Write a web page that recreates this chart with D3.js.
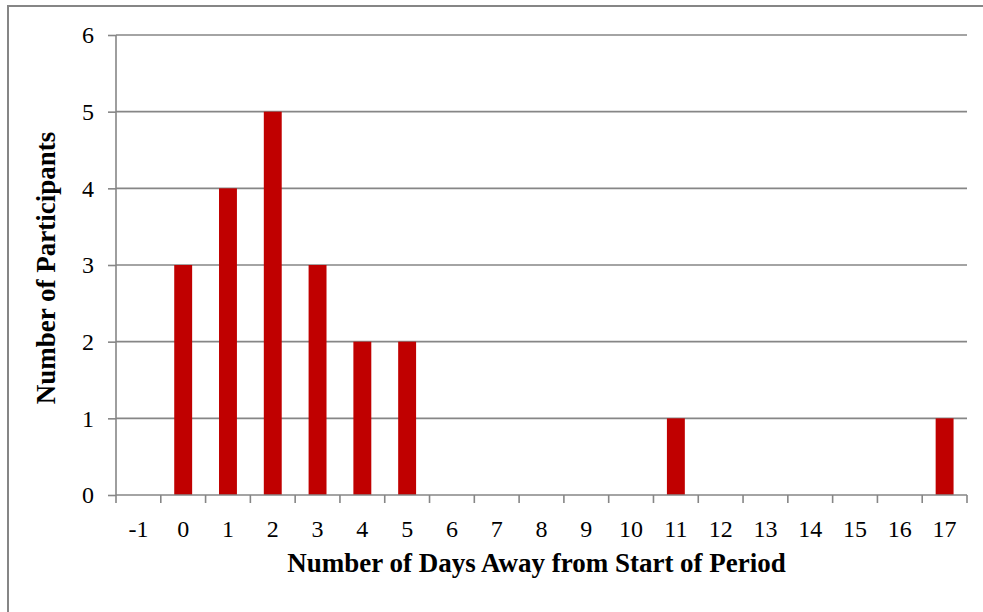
<!DOCTYPE html>
<html>
<head>
<meta charset="utf-8">
<script src="https://cdn.jsdelivr.net/npm/d3@7"></script>
<style>
  html, body { margin: 0; padding: 0; background: #fff; }
  svg { display: block; }
</style>
</head>
<body>
<script>
// Days away from start of period and how many participants fall on each day
const days = [-1, 0, 1, 2, 3, 4, 5, 6, 7, 8, 9, 10, 11, 12, 13, 14, 15, 16, 17];
const participants = [0, 3, 4, 5, 3, 2, 2, 0, 0, 0, 0, 0, 1, 0, 0, 0, 0, 0, 1];
const yTicks = [0, 1, 2, 3, 4, 5, 6];
const xTitle = "Number of Days Away from Start of Period";
const yTitle = "Number of Participants";

const W = 983, H = 612;
const plot = { left: 116, right: 967, top: 35, bottom: 495 };
const gridColor = "#868686";
const barColor = "#C00000";
const serif = "'Liberation Serif', 'Times New Roman', Tinos, 'DejaVu Serif', serif";

const svg = d3.select("body").append("svg").attr("width", W).attr("height", H)
  .style("font-family", serif);

// Outer chart frame (runs past the right and bottom edges)
svg.append("rect")
  .attr("x", 8).attr("y", 6)
  .attr("width", W + 20).attr("height", H + 20)
  .attr("fill", "#fff").attr("stroke", gridColor).attr("stroke-width", 2);

const x = d3.scaleBand().domain(days).range([plot.left, plot.right]).paddingInner(0).paddingOuter(0);
const y = d3.scaleLinear().domain([0, 6]).range([plot.bottom, plot.top]);

// Horizontal gridlines
svg.append("g").selectAll("line").data(yTicks.filter(d => d > 0)).join("line")
  .attr("x1", plot.left).attr("x2", plot.right)
  .attr("y1", d => y(d)).attr("y2", d => y(d))
  .attr("stroke", gridColor).attr("stroke-width", 1.6);

// Bars: 40% of each band, centred
const barW = x.bandwidth() * 0.4;
svg.append("g").selectAll("rect").data(days.map((d, i) => ({ day: d, n: participants[i] })).filter(d => d.n > 0))
  .join("rect")
  .attr("x", d => x(d.day) + (x.bandwidth() - barW) / 2)
  .attr("width", barW)
  .attr("y", d => y(d.n))
  .attr("height", d => y(0) - y(d.n))
  .attr("fill", barColor);

// Y axis
const yAxis = svg.append("g").attr("transform", `translate(${plot.left},0)`)
  .call(d3.axisLeft(y).tickValues(yTicks).tickFormat(d3.format("d")).tickSize(8).tickPadding(14))
  .attr("font-family", null).attr("font-size", null);
yAxis.select(".domain").attr("stroke", gridColor).attr("stroke-width", 1.6).attr("d", `M0,${plot.top}V${plot.bottom}`);
yAxis.selectAll(".tick line").attr("stroke", gridColor).attr("stroke-width", 1.6);
yAxis.selectAll(".tick text").attr("font-size", 24).style("font-family", serif).attr("fill", "#000");

// X axis: tick marks at band boundaries, labels centred in each band
const xAxis = svg.append("g").attr("transform", `translate(0,${plot.bottom})`);
xAxis.append("line").attr("x1", plot.left).attr("x2", plot.right)
  .attr("stroke", gridColor).attr("stroke-width", 1.6);
const bounds = days.map(d => x(d)).concat([x(days[days.length - 1]) + x.bandwidth()]);
xAxis.selectAll("line.tk").data(bounds).join("line").attr("class", "tk")
  .attr("x1", d => d).attr("x2", d => d).attr("y1", 0).attr("y2", 8)
  .attr("stroke", gridColor).attr("stroke-width", 1.6);
xAxis.selectAll("text").data(days).join("text")
  .attr("x", d => x(d) + x.bandwidth() / 2)
  .attr("y", 42)
  .attr("text-anchor", "middle")
  .attr("font-size", 24)
  .style("font-family", serif)
  .text(d => d);

// Axis titles
svg.append("text")
  .attr("x", (290 + 783) / 2).attr("y", 572)
  .attr("text-anchor", "middle")
  .attr("font-size", 27).attr("font-weight", "bold")
  .style("font-family", serif)
  .text(xTitle);

svg.append("text")
  .attr("transform", `translate(55,268) rotate(-90)`)
  .attr("text-anchor", "middle")
  .attr("font-size", 27).attr("font-weight", "bold")
  .style("font-family", serif)
  .text(yTitle);
</script>
</body>
</html>
